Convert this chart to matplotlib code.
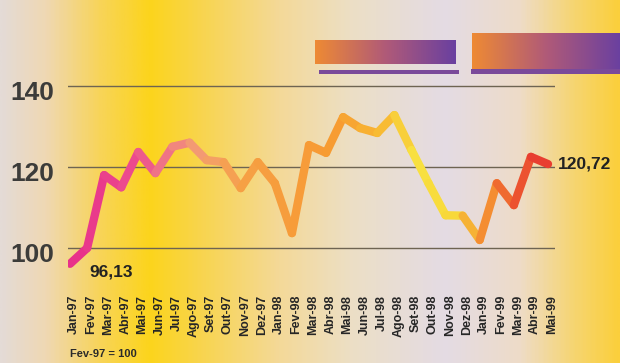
import numpy as np
import matplotlib
matplotlib.use('Agg')
import matplotlib.pyplot as plt
from matplotlib.collections import LineCollection
from matplotlib.colors import LinearSegmentedColormap
import matplotlib.transforms as mtransforms

# Index (Fev-97 = 100), monthly values
months = ['Jan-97', 'Fev-97', 'Mar-97', 'Abr-97', 'Mai-97', 'Jun-97', 'Jul-97',
          'Ago-97', 'Set-97', 'Out-97', 'Nov-97', 'Dez-97', 'Jan-98', 'Fev-98',
          'Mar-98', 'Abr-98', 'Mai-98', 'Jun-98', 'Jul-98', 'Ago-98', 'Set-98',
          'Out-98', 'Nov-98', 'Dez-98', 'Jan-99', 'Fev-99', 'Mar-99', 'Abr-99',
          'Mai-99']
values = [96.13, 100.0, 118.0, 115.0, 123.7, 118.5, 125.0, 126.0, 121.7, 121.2,
          114.8, 121.2, 116.0, 103.7, 125.4, 123.5, 132.3, 129.6, 128.4, 132.8,
          124.2, 116.0, 108.1, 108.0, 102.0, 116.0, 110.6, 122.5, 120.72]
y_ticks = [100, 120, 140]
first_label = '96,13'
last_label = '120,72'
base_note = 'Fev-97 = 100'

plt.rcParams['font.family'] = ['Liberation Sans', 'DejaVu Sans']

fig = plt.figure(figsize=(6.2, 3.63), dpi=100)

# background gradient (left grey-pink -> yellow -> pale -> lavender -> yellow)
bg_cmap = LinearSegmentedColormap.from_list('bg', [
    (0.00, '#e4dbd6'), (0.07, '#efd8b4'), (0.16, '#f8d458'), (0.24, '#fcd41c'),
    (0.33, '#f8d552'), (0.45, '#f4d998'), (0.57, '#ecdfc6'), (0.72, '#e4dbe4'),
    (0.84, '#eedcc8'), (0.93, '#f6d570'), (1.00, '#fbcf3c')])
bg = fig.add_axes([0, 0, 1, 1], zorder=-1)
bg.imshow(np.linspace(0, 1, 400)[None, :], aspect='auto', cmap=bg_cmap,
          extent=[0, 1, 0, 1])
bg.axis('off')

# decorative picture blocks at the top right
deco_cmap = LinearSegmentedColormap.from_list('deco', ['#ee8a34', '#b05a78', '#6a40a0'])
for rect in ([0.508, 0.823, 0.226, 0.066], [0.761, 0.81, 0.239, 0.10]):
    d = fig.add_axes(rect)
    d.imshow(np.linspace(0, 1, 200)[None, :], aspect='auto', cmap=deco_cmap)
    d.axis('off')
for rect in ([0.515, 0.795, 0.225, 0.012], [0.76, 0.795, 0.24, 0.014]):
    s = fig.add_axes(rect)
    s.set_facecolor('#7a4a9a')
    s.set_xticks([])
    s.set_yticks([])
    for sp in s.spines.values():
        sp.set_visible(False)

ax = fig.add_axes([0.1102, 0.2149, 0.7847, 0.7025])
ax.set_facecolor('none')
for sp in ax.spines.values():
    sp.set_visible(False)

x = np.arange(len(values))
ax.set_xlim(-0.1, 28.4)
ax.set_ylim(90.9, 153.8)

for t in y_ticks:
    ax.axhline(t, color='#6e6452', lw=1.0, zorder=1)

# line coloured along its length
line_cmap = LinearSegmentedColormap.from_list('line', [
    (0.00, '#e8328a'), (0.12, '#ec4c8e'), (0.20, '#f07c84'), (0.27, '#f3a070'),
    (0.36, '#f6a045'), (0.55, '#f79a32'), (0.66, '#f8b832'), (0.74, '#f8e040'),
    (0.82, '#f8d83a'), (0.88, '#f59632'), (0.94, '#ee6030'), (1.00, '#e83e30')])
pts = np.column_stack([x, values])
segs = np.stack([pts[:-1], pts[1:]], axis=1)
lc = LineCollection(segs, colors=line_cmap(np.linspace(0, 1, len(segs))),
                    linewidths=6, capstyle='round', joinstyle='round', zorder=3)
ax.add_collection(lc)

ax.set_xticks(x)
ax.set_xticklabels(months, rotation=90, fontsize=9, fontweight='bold',
                   color='#262626')
ax.set_yticks(y_ticks)
ax.set_yticklabels([str(t) for t in y_ticks], fontsize=19, fontweight='bold',
                   color='#3c3c3a')
ax.tick_params(axis='x', length=0, pad=7)
ax.tick_params(axis='y', length=0, pad=10)
xoff = mtransforms.ScaledTranslation(3 / 72, 0, fig.dpi_scale_trans)
for lab in ax.get_xticklabels():
    lab.set_transform(lab.get_transform() + xoff)
yoff = mtransforms.ScaledTranslation(0, -3 / 72, fig.dpi_scale_trans)
for lab in ax.get_yticklabels():
    lab.set_transform(lab.get_transform() + yoff)

ax.annotate(first_label, (x[0], values[0]), xytext=(14, -6),
            textcoords='offset points', fontsize=12.5, fontweight='bold',
            color='#222222', va='center', ha='left')
ax.annotate(last_label, (x[-1], values[-1]), xytext=(7, 0),
            textcoords='offset points', fontsize=12.5, fontweight='bold',
            color='#222222', va='center', ha='left')

fig.text(70 / 620, 1 - 354 / 363, base_note, fontsize=8, fontweight='bold',
         color='#2a2a2a', va='center', ha='left')

fig.savefig('out.png', dpi=100)
